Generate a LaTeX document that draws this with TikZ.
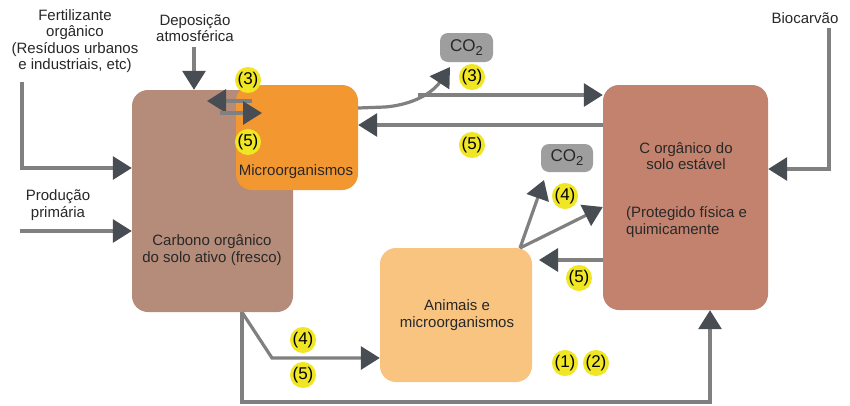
\documentclass[tikz,border=0pt]{standalone}
\usepackage{fontspec}
\setmainfont{Liberation Sans}
\usetikzlibrary{arrows.meta,calc}
\definecolor{activec}{RGB}{181,140,122}
\definecolor{microc}{RGB}{243,152,48}
\definecolor{animc}{RGB}{248,196,128}
\definecolor{stablec}{RGB}{194,130,110}
\definecolor{co2c}{RGB}{158,158,158}
\definecolor{linegray}{RGB}{128,128,128}
\definecolor{headc}{RGB}{72,77,83}
\definecolor{numy}{RGB}{240,230,35}
\definecolor{textc}{RGB}{40,40,40}
\newcommand{\cotwo}{CO\raisebox{-0.45ex}{\fontsize{13}{13}\selectfont 2}}
\begin{document}
\begin{tikzpicture}[x=1pt,y=-1pt,
  box/.style={rounded corners=16pt, inner sep=0pt},
  txt/.style={align=center, font=\fontsize{15}{16.5}\selectfont, text=textc, inner sep=0pt},
  flow/.style={draw=linegray, line width=3.2pt, -{Triangle[length=19pt,width=23pt,color=headc]}},
  plain/.style={draw=linegray, line width=3.2pt},
  num/.style={circle, fill=numy, inner sep=0pt, minimum size=23pt, text=black, font=\fontsize{17}{17}\selectfont},
  co2/.style={rounded corners=8pt, fill=co2c, inner sep=0pt, text=textc, font=\fontsize{17}{17}\selectfont}
]
\useasboundingbox (0,0) rectangle (850,405);
\fill[white] (0,0) rectangle (850,405);

% boxes
\node[box, fill=activec, minimum width=161pt, minimum height=222pt] (active) at (212.5,201) {};
\node[box, fill=microc, minimum width=122pt, minimum height=105pt] (micro) at (297,137.5) {};
\node[box, fill=animc, minimum width=152pt, minimum height=134pt] (anim) at (456,315) {};
\node[box, fill=stablec, minimum width=165pt, minimum height=225pt] (stable) at (685.5,197.5) {};
\node[co2, minimum width=53pt, minimum height=29pt] (co2a) at (466.5,47.5) {\cotwo};
\node[co2, minimum width=52pt, minimum height=28pt] (co2b) at (567,158) {\cotwo};

% box texts
\node[txt] (microt) at (296,172) {Microorganismos};
\node[txt, font=\fontsize{15}{17}\selectfont] (activet) at (212,250) {Carbono orgânico\\do solo ativo (fresco)};
\node[txt] (animt) at (457,315) {Animais e\\microorganismos};
\node[txt] (stablet) at (686,156) {C orgânico do\\solo estável};
\node[txt, align=left, anchor=west] (stablet2) at (626,222) {(Protegido física e\\quimicamente};

% outside texts
\node[txt] (fert) at (75,41) {Fertilizante\\orgânico\\(Resíduos urbanos\\e industriais, etc)};
\node[txt] (depos) at (195,28) {Deposição\\atmosférica};
\node[txt] (prod) at (58,205) {Produção\\primária};
\node[txt] (bio) at (805,18) {Biocarvão};

% coordinates
\coordinate (fertS) at (22,82);
\coordinate (prodS) at (20,231);
\coordinate (depS) at (194,47);
\coordinate (bioS) at (829,28);
\coordinate (animS) at (520,248);

% inputs
\draw[flow] (fertS) -- (22,168) -- (active.west |- 0,168);
\draw[flow] (prodS) -- (active.west |- 0,231);
\draw[flow] (depS) -- (active.north -| depS);
\draw[flow] (bioS) -- (829,169) -- (stable.east |- 0,169);

% active <-> micro
\draw[flow] (252,101) -- (207,101);
\draw[flow] (220,113) -- (262,113);

% micro -> CO2 and stable
\draw[flow] (micro.east |- 0,108) -- (385,107) .. controls (420,104) and (436,88) .. (450,67);
\draw[flow] (418,95) -- (stable.west |- 0,95);
\draw[flow] (stable.west |- 0,125) -- (micro.east |- 0,125);

% animals -> CO2 / stable
\draw[flow] (animS) -- (544,180);
\draw[flow] (animS) -- (stable.west |- 0,207);
\draw[flow] (stable.west |- 0,260) -- (539,260);

% active -> animals / stable
\draw[flow] (active.south -| 242,0) -- (272,358) -- (anim.west |- 0,358);
\draw[flow] (active.south -| 242,0) -- (242,402) -- (710,402) -- (stable.south -| 710,0);

% number labels
\node[num] (n3a) at (248,80) {(3)};
\node[num] (n5a) at (248,142) {(5)};
\node[num] (n3b) at (472,77) {(3)};
\node[num] (n5b) at (472,145) {(5)};
\node[num] (n4c) at (565,196) {(4)};
\node[num] (n5c) at (579,278) {(5)};
\node[num] (n4d) at (303,340) {(4)};
\node[num] (n5d) at (303,375) {(5)};
\node[num] (n1) at (565,363) {(1)};
\node[num] (n2) at (596,363) {(2)};
\end{tikzpicture}
\end{document}
